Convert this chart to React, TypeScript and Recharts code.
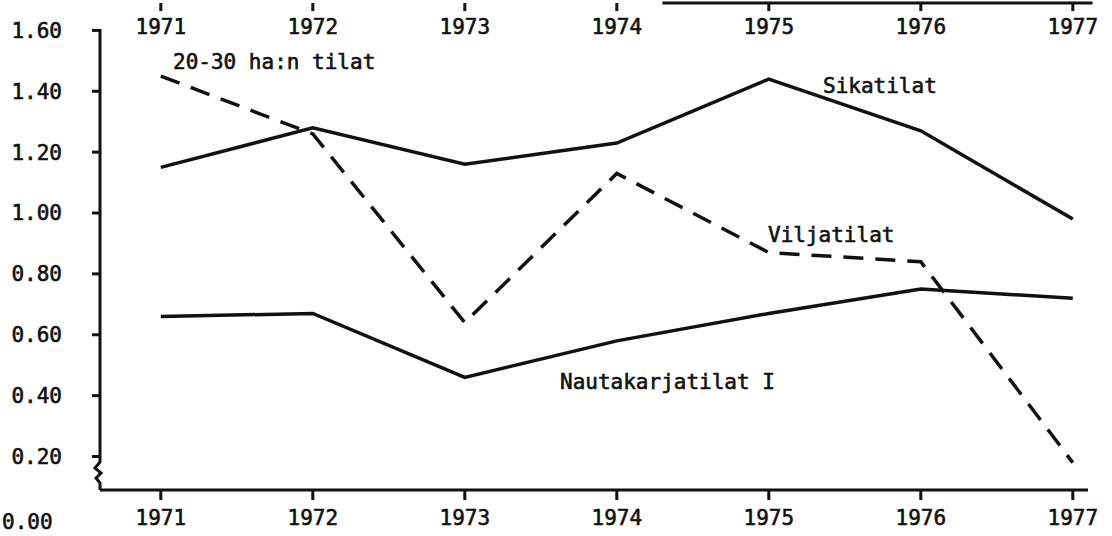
import React from "react";
import {
  LineChart,
  Line,
  XAxis,
  YAxis,
  ReferenceLine,
} from "recharts";

const years = [1971, 1972, 1973, 1974, 1975, 1976, 1977];
const sikatilat = [1.15, 1.28, 1.16, 1.23, 1.44, 1.27, 0.98];
const viljatilat = [1.45, 1.26, 0.64, 1.13, 0.87, 0.84, 0.18];
const nautakarjatilat = [0.66, 0.67, 0.46, 0.58, 0.67, 0.75, 0.72];
const yTicks = [0.2, 0.4, 0.6, 0.8, 1.0, 1.2, 1.4, 1.6];

const data = years.map((year, i) => ({
  year,
  sika: sikatilat[i],
  vilja: viljatilat[i],
  nauta: nautakarjatilat[i],
}));

const font = "'DejaVu Sans Mono', 'Liberation Mono', monospace";
const ink = "#111";
const tickStyle = {
  fontFamily: font,
  fontSize: 21,
  fill: ink,
  stroke: ink,
  strokeWidth: 0.6,
};

export default function App() {
  return (
    <div style={{ position: "absolute", left: 0, top: 0, background: "#fff" }}>
      <LineChart
        width={1112}
        height={536}
        data={data}
        margin={{ top: 3, right: 24, bottom: 6, left: 0 }}
      >
        <XAxis
          xAxisId="b"
          dataKey="year"
          type="number"
          domain={[1970.6, 1977.1]}
          ticks={years}
          height={40}
          tickSize={10}
          tickMargin={10}
          axisLine={{ stroke: ink, strokeWidth: 3 }}
          tickLine={{ stroke: ink, strokeWidth: 3 }}
          tick={tickStyle}
        />
        <XAxis
          xAxisId="t"
          dataKey="year"
          type="number"
          orientation="top"
          mirror
          domain={[1970.6, 1977.1]}
          ticks={years}
          tickSize={8}
          tickMargin={8}
          axisLine={false}
          tickLine={{ stroke: ink, strokeWidth: 3 }}
          tick={tickStyle}
        />
        <YAxis
          domain={[0.09, 1.69]}
          ticks={yTicks}
          width={100}
          tickSize={8}
          tickMargin={30}
          axisLine={false}
          tickLine={{ stroke: ink, strokeWidth: 3 }}
          tick={tickStyle}
          tickFormatter={(v: number) => v.toFixed(2)}
          allowDataOverflow
        />
        <ReferenceLine
          xAxisId="b"
          segment={[
            { x: 1974.3, y: 1.69 },
            { x: 1977.13, y: 1.69 },
          ]}
          stroke={ink}
          strokeWidth={3}
          ifOverflow="visible"
        />
        {/* left axis with the break mark near the bottom */}
        <path
          d="M100 29 L100 462 L95 468 L101 473 L96 478 L100 483 L100 490"
          fill="none"
          stroke={ink}
          strokeWidth={3}
        />
        <Line
          xAxisId="b"
          dataKey="sika"
          stroke={ink}
          strokeWidth={3.5}
          dot={false}
          isAnimationActive={false}
        />
        <Line
          xAxisId="b"
          dataKey="vilja"
          stroke={ink}
          strokeWidth={3.5}
          strokeDasharray="20 12"
          dot={false}
          isAnimationActive={false}
        />
        <Line
          xAxisId="b"
          dataKey="nauta"
          stroke={ink}
          strokeWidth={3.5}
          dot={false}
          isAnimationActive={false}
        />
        <g
          style={{ fontFamily: font, fontSize: 21, fill: ink }}
          stroke={ink}
          strokeWidth={0.6}
        >
          <text x={173} y={69}>20-30 ha:n tilat</text>
          <text x={823} y={93}>Sikatilat</text>
          <text x={768} y={242}>Viljatilat</text>
          <text x={560} y={389}>Nautakarjatilat I</text>
          <text x={2} y={529}>0.00</text>
        </g>
      </LineChart>
    </div>
  );
}
